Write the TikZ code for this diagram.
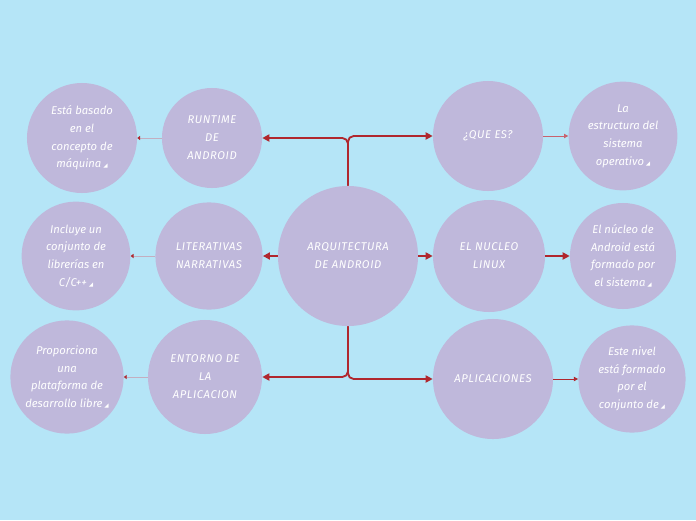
\documentclass[tikz,border=0pt]{standalone}
\usepackage{fontspec}
\setmainfont{Fira Sans}
\newfontfamily\capsfont[LetterSpace=5.0]{Fira Sans}
\newfontfamily\symfont{DejaVu Sans}
\usetikzlibrary{arrows.meta}
\definecolor{bgblue}{HTML}{B5E5F7}
\definecolor{bubble}{HTML}{BFB8DB}
\definecolor{linkred}{HTML}{B0272E}
\definecolor{linkgrey}{HTML}{C3AEC0}
\definecolor{linkpink}{HTML}{C8626E}
\newcommand{\foldmark}{\,{\symfont\fontsize{4}{4}\selectfont ◢}}
\begin{document}
\begin{tikzpicture}[x=0.025cm, y=-0.025cm,
    every node/.style={font=\itshape\fontsize{8}{12.5}\selectfont, align=center, text=white},
    bub/.style={circle, fill=bubble, inner sep=0pt},
    topic/.style={bub, font=\capsfont\itshape\fontsize{8}{12.8}\selectfont},
    arr/.style={-{Triangle[length=5pt, width=5pt]}, line width=1.3pt, linkred, rounded corners=4pt},
    sub/.style={-{Triangle[length=3pt, width=3pt]}, line width=0.7pt}
]
\fill[bgblue] (0,0) rectangle (696,520);
\node[topic, minimum size=3.5cm]  (root)    at (348,256) {ARQUITECTURA\\DE ANDROID};
\node[topic, minimum size=2.5cm]  (runtime) at (212,138) {RUNTIME\\DE\\ANDROID};
\node[topic, minimum size=2.68cm] (literat) at (209,256) {LITERATIVAS\\NARRATIVAS};
\node[topic, minimum size=2.85cm] (entorno) at (205,377) {ENTORNO DE\\LA\\APLICACION};
\node[topic, minimum size=2.75cm] (quees)   at (488,136) {¿QUE ES?};
\node[topic, minimum size=2.8cm]  (nucleo)  at (489,256) {EL NUCLEO\\LINUX};
\node[topic, minimum size=3.0cm]  (aplic)   at (493,379) {APLICACIONES};
\node[bub, minimum size=2.75cm] (basado)  at (82,138)  {Está basado\\en el\\concepto de\\máquina\foldmark};
\node[bub, minimum size=2.72cm] (incluye) at (76,256)  {Incluye un\\conjunto de\\librerías en\\C/C++\foldmark};
\node[bub, minimum size=2.83cm] (proporc) at (67,377)  {Proporciona\\una\\plataforma de\\desarrollo libre\foldmark};
\node[bub, minimum size=2.72cm] (estruct) at (623,136) {La\\estructura del\\sistema\\operativo\foldmark};
\node[bub, minimum size=2.65cm] (kernel)  at (623,256) {El núcleo de\\Android está\\formado por\\el sistema\foldmark};
\node[bub, minimum size=2.68cm] (nivel)   at (632,379) {Este nivel\\está formado\\por el\\conjunto de\foldmark};
\draw[arr] (root.north) |- (runtime.east);
\draw[arr] (root.north) |- (quees.west);
\draw[arr] (root.west) -- (literat.east);
\draw[arr] (root.east) -- (nucleo.west);
\draw[arr] (root.south) |- (entorno.east);
\draw[arr] (root.south) |- (aplic.west);
\draw[sub, linkgrey, -{Triangle[length=2pt, width=3pt, linkred]}] (runtime.west) -- (basado.east);
\draw[sub, linkgrey, -{Triangle[length=2pt, width=3pt, linkred]}] (literat.west) -- (incluye.east);
\draw[sub, linkgrey, -{Triangle[length=2pt, width=3pt, linkred]}] (entorno.west) -- (proporc.east);
\draw[sub, linkpink] (quees.east) -- (estruct.west);
\draw[arr] (nucleo.east) -- (kernel.west);
\draw[sub, linkred] (aplic.east) -- (nivel.west);
\end{tikzpicture}
\end{document}
